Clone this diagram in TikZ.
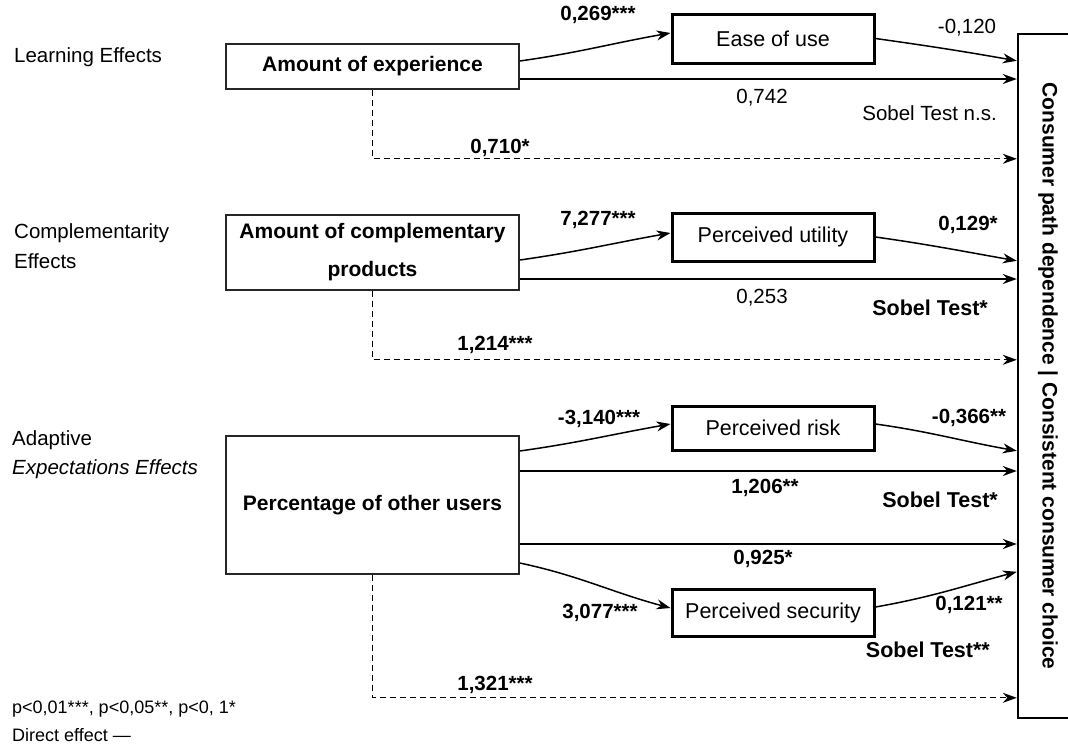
\documentclass[tikz,border=0pt]{standalone}
\usepackage{fontspec}
\setmainfont{Liberation Sans}
\usepackage{graphicx}
\usetikzlibrary{arrows.meta,calc}
\tikzset{
  box/.style   ={draw=black!85, line width=1.6pt, align=center, inner sep=3pt,
                 font=\fontsize{21}{38}\selectfont\bfseries, minimum width=293pt},
  med/.style   ={draw, line width=3pt, minimum width=202pt,
                 font=\fontsize{21.5}{26}\selectfont},
  outer/.style ={draw, line width=2.4pt, minimum width=60pt, minimum height=684pt,
                 inner sep=0pt, font=\fontsize{21}{25}\selectfont\bfseries},
  grp/.style   ={anchor=west, align=left, inner sep=0pt, font=\fontsize{20.5}{29.5}\selectfont},
  num/.style   ={inner sep=0pt, font=\fontsize{20.5}{24}\selectfont\bfseries},
  val/.style   ={inner sep=0pt, font=\fontsize{20.5}{24}\selectfont},
  sobel/.style ={anchor=east, inner sep=0pt, font=\fontsize{21.5}{24}\selectfont\bfseries},
  note/.style  ={anchor=west, inner sep=0pt, font=\fontsize{18}{22}\selectfont},
  flow/.style  ={-{Stealth[length=14pt,width=10pt]}, line width=1.5pt},
  direct/.style={flow, line width=1.3pt, dash pattern=on 6pt off 4pt},
}
\begin{document}
\begin{tikzpicture}[x=1pt,y=-1pt]
  \useasboundingbox (0,0) rectangle (1068,753);
  % antecedents
  \node[box, minimum height=45pt](exp) at (372.5,66.5){Amount of experience};
  \node[box, minimum height=75pt](comp) at (372.5,252.5){Amount of complementary\\products};
  \node[box, minimum height=138pt](pct) at (372.5,505){Percentage of other users};
  % mediators
  \node[med, minimum height=49pt](ease) at (773,38.5){Ease of use};
  \node[med, minimum height=48pt](util) at (773,237){Perceived utility};
  \node[med, minimum height=44pt](risk) at (773,428){Perceived risk};
  \node[med, minimum height=47pt](sec) at (773,612.5){Perceived security};
  % outcome
  \node[outer](choice) at (1048,376){\rotatebox{-90}{Consumer path dependence | Consistent consumer choice}};
  % effect groups
  \node[grp](learn) at (14,57){Learning Effects};
  \node[grp](compl) at (14,246){Complementarity\\Effects};
  \node[grp](adapt) at (12,454.5){Adaptive\\\textit{Expectations Effects}};
  % learning effects
  \draw[flow] ($(exp.east)+(0,-5.5)$) to[out=8,in=190] ($(ease.west)+(0,-5.5)$);
  \draw[flow] (ease.east) to[out=-8,in=170] ($(choice.north west)+(0,28)$);
  \draw[flow] ($(exp.east)+(0,12.5)$) coordinate (x1) -- (x1 -| choice.west);
  \draw[direct] (exp.south) |- ($(choice.north west)+(0,126)$);
  \node[num](a269) at (598,15){0,269***};
  \node[val](a120) at (967,28){-0,120};
  \node[val](a742) at (762,98){0,742};
  \node[sobel, font=\fontsize{20.5}{24}\selectfont](sobA) at (997,113){Sobel Test n.s.};
  \node[num](a710) at (500,148){0,710*};
  % complementarity effects
  \draw[flow] ($(comp.east)+(0,7.5)$) to[out=8,in=190] ($(util.west)+(0,-4)$);
  \draw[flow] (util.east) to[out=-8,in=170] ($(choice.north west)+(0,228)$);
  \draw[flow] ($(comp.east)+(0,26.5)$) coordinate (x2) -- (x2 -| choice.west);
  \draw[direct] (comp.south) |- ($(choice.north west)+(0,327)$);
  \node[num](b277) at (598,220){7,277***};
  \node[num](b129) at (968,225){0,129*};
  \node[val](b253) at (762,298){0,253};
  \node[sobel](sobB) at (988,308){Sobel Test*};
  \node[num](b214) at (495,345){1,214***};
  % adaptive expectations effects
  \draw[flow] ($(pct.east)+(0,-54)$) to[out=8,in=190] ($(risk.west)+(0,-4)$);
  \draw[flow] ($(risk.east)+(0,-4)$) to[out=-8,in=170] ($(choice.north west)+(0,418)$);
  \draw[flow] ($(pct.east)+(0,-34)$) coordinate (x3) -- (x3 -| choice.west);
  \draw[flow] ($(pct.east)+(0,39)$) coordinate (x4) -- (x4 -| choice.west);
  \draw[flow] ($(pct.east)+(0,58)$) to[out=-12,in=165] ($(sec.west)+(0,-4.5)$);
  \draw[flow] ($(sec.east)+(0,-5.5)$) to[out=10,in=195] ($(choice.north west)+(0,539)$);
  \draw[direct] (pct.south) |- ($(choice.north west)+(0,665)$);
  \node[num](c140) at (599,419){-3,140***};
  \node[num](c366) at (969,418){-0,366**};
  \node[num](c206) at (765,488){1,206**};
  \node[sobel](sobC) at (998,500){Sobel Test*};
  \node[num](c925) at (763,559){0,925*};
  \node[num](c077) at (600,613){3,077***};
  \node[num](c121) at (969,605){0,121**};
  \node[sobel](sobD) at (990,650){Sobel Test**};
  \node[num](c321) at (495,685){1,321***};
  % legend
  \node[note](sig) at (12,709){p<0,01***, p<0,05**, p<0, 1*};
  \node[note](dir) at (12,735){Direct effect ---};
\end{tikzpicture}
\end{document}
